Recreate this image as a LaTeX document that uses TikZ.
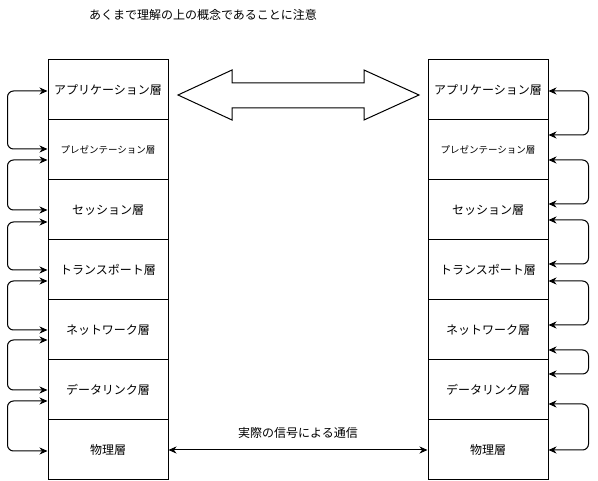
\documentclass[tikz,border=0pt]{standalone}
\usepackage{fontspec}
\setmainfont{Noto Sans CJK JP}
\usetikzlibrary{arrows.meta}

\tikzset{
	layer/.style={draw, line width=1pt, minimum width=120pt, minimum height=60pt, inner sep=0pt, font=\fontsize{12}{14}\selectfont},
	tip/.style={Stealth[length=8pt,width=7pt,inset=2.5pt]},
	loopline/.style={line width=1pt, rounded corners=6pt, {Stealth[length=8pt,width=7pt,inset=2.5pt]}-{Stealth[length=8pt,width=7pt,inset=2.5pt]}},
}

\begin{document}
\begin{tikzpicture}[x=1pt, y=-1pt]

	\useasboundingbox (0,0) rectangle (598,481);

	% note
	\node[font=\fontsize{12}{14}\selectfont] (note) at (203,15) {あくまで理解の上の概念であることに注意};

	% layers of both stacks
	\foreach \name [count=\i] in {アプリケーション層, {\fontsize{9.5}{11}\selectfont プレゼンテーション層}, セッション層, トランスポート層, ネットワーク層, データリンク層, 物理層} {
		\node[layer] (L\i) at (108, 30+60*\i) {\name};
		\node[layer] (R\i) at (488, 30+60*\i) {\name};
	}

	% loops on the left
	\foreach \i/\j/\a/\b in {1/2/1/-1, 2/3/10/0, 3/4/12/0, 4/5/11/0, 5/6/10/0, 6/7/11/1}
		\draw[loopline] ([yshift=-\a pt]L\i.west) -- ++(-40,0) |- ([yshift=-\b pt]L\j.west);

	% loops on the right
	\foreach \i/\j/\a/\b in {1/2/1/-15, 2/3/10/-6, 3/4/10/-6, 4/5/11/-5, 5/6/20/-16, 6/7/14/0}
		\draw[loopline] ([yshift=-\a pt]R\i.east) -- ++(40,0) |- ([yshift=-\b pt]R\j.east);

	% big double arrow between the top layers
	\coordinate (tipL) at (178,95);
	\coordinate (tipR) at (419,95);
	\draw[line width=1pt, line join=miter] (tipL) -- (232,70) -- (232,83) -- (364,83) -- (364,70)
		-- (tipR) -- (364,120) -- (364,108) -- (232,108) -- (232,120) -- cycle;

	% real signal
	\draw[line width=1pt, {Stealth[length=8pt,width=7pt,inset=2.5pt]}-{Stealth[length=8pt,width=7pt,inset=2.5pt]}] (L7.east) -- (R7.west)
		node[midway, yshift=17pt, font=\fontsize{12}{14}\selectfont] (signal) {実際の信号による通信};

\end{tikzpicture}
\end{document}
